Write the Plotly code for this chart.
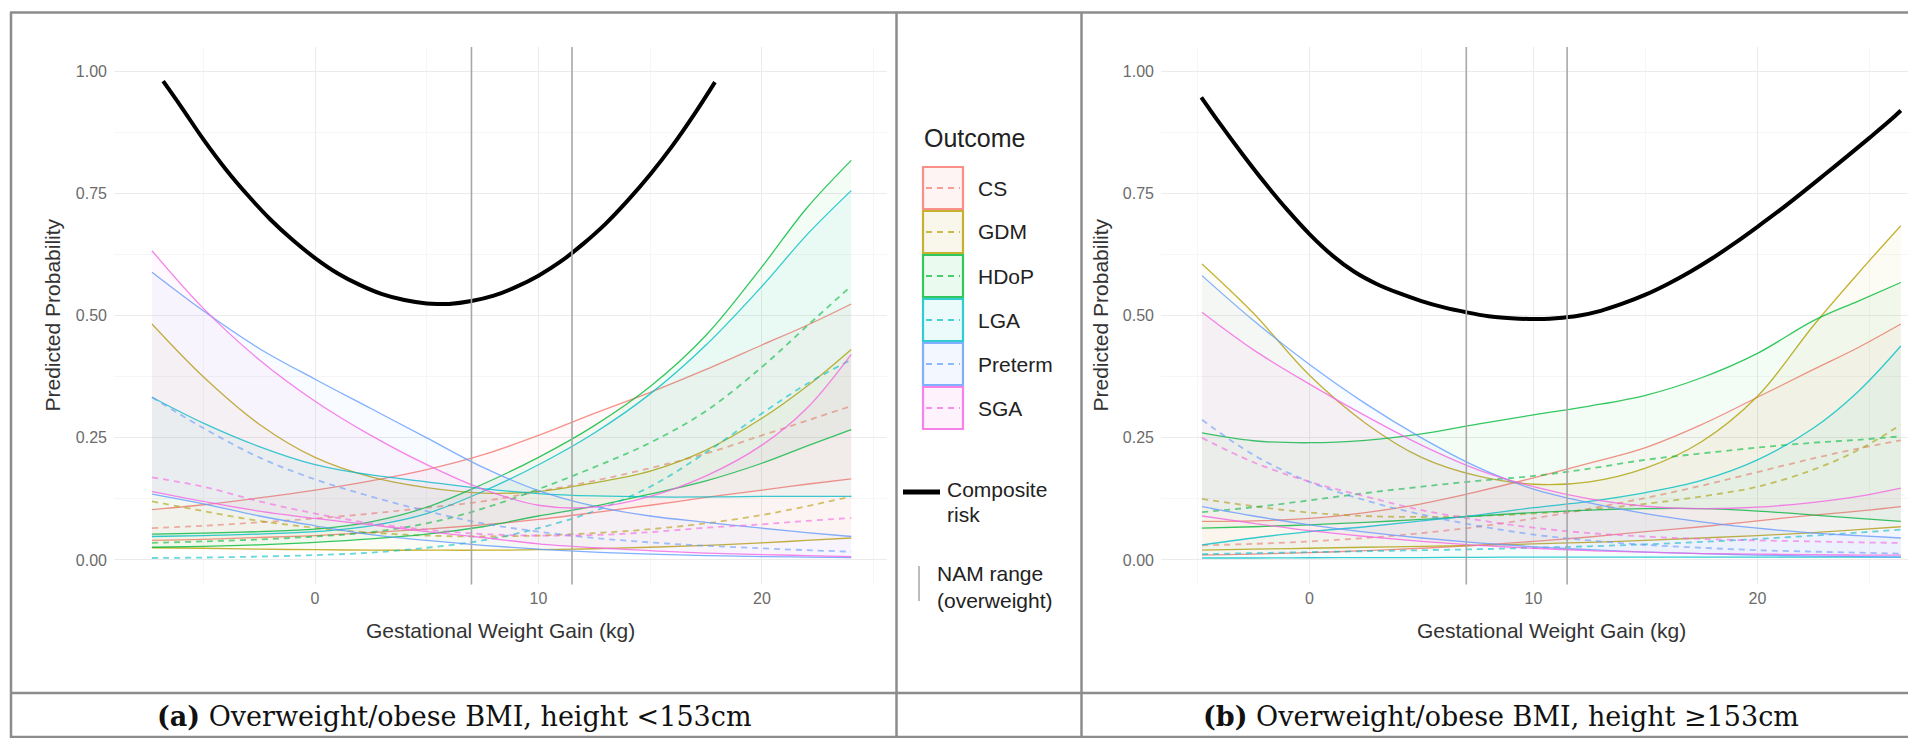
import plotly.graph_objects as go

W, H = 1908, 738

# ---------------- data ----------------
outcomes = ["CS", "GDM", "HDoP", "LGA", "Preterm", "SGA"]
outcome_colors = ["#F8766D", "#B79F00", "#00BA38", "#00BFC4", "#619CFF", "#F564E3"]

# Panel (a): overweight/obese BMI, height <153cm
gwg_a = [-7.3, -5, -2.5, 0, 2.5, 5, 7.5, 10, 12.5, 15, 17.5, 20, 22, 24]
a_cs_hi = [0.103, 0.113, 0.127, 0.143, 0.162, 0.185, 0.215, 0.255, 0.300, 0.343, 0.390, 0.440, 0.480, 0.524]
a_cs_lo = [0.040, 0.042, 0.046, 0.050, 0.056, 0.063, 0.072, 0.083, 0.097, 0.112, 0.128, 0.143, 0.155, 0.166]
a_cs_est = [0.065, 0.070, 0.077, 0.085, 0.095, 0.107, 0.120, 0.140, 0.162, 0.188, 0.218, 0.255, 0.285, 0.315]
a_gdm_hi = [0.483, 0.375, 0.278, 0.210, 0.170, 0.148, 0.137, 0.140, 0.158, 0.182, 0.225, 0.290, 0.355, 0.431]
a_gdm_lo = [0.025, 0.024, 0.022, 0.021, 0.020, 0.020, 0.020, 0.021, 0.023, 0.026, 0.030, 0.035, 0.040, 0.045]
a_gdm_est = [0.120, 0.100, 0.080, 0.066, 0.056, 0.050, 0.048, 0.050, 0.055, 0.063, 0.075, 0.092, 0.110, 0.130]
a_hdop_hi = [0.053, 0.055, 0.058, 0.063, 0.078, 0.108, 0.155, 0.210, 0.275, 0.355, 0.460, 0.600, 0.720, 0.818]
a_hdop_lo = [0.026, 0.028, 0.031, 0.036, 0.043, 0.053, 0.068, 0.090, 0.110, 0.135, 0.162, 0.198, 0.233, 0.267]
a_hdop_est = [0.035, 0.038, 0.042, 0.048, 0.057, 0.075, 0.105, 0.145, 0.190, 0.240, 0.305, 0.395, 0.478, 0.561]
a_lga_hi = [0.048, 0.050, 0.053, 0.058, 0.070, 0.095, 0.140, 0.195, 0.260, 0.340, 0.440, 0.560, 0.665, 0.756]
a_lga_lo = [0.333, 0.280, 0.232, 0.195, 0.174, 0.160, 0.146, 0.136, 0.131, 0.129, 0.129, 0.130, 0.130, 0.130]
a_lga_est = [0.004, 0.005, 0.007, 0.010, 0.015, 0.025, 0.040, 0.065, 0.100, 0.150, 0.220, 0.300, 0.360, 0.410]
a_pre_hi = [0.589, 0.510, 0.433, 0.370, 0.310, 0.250, 0.190, 0.142, 0.110, 0.090, 0.077, 0.065, 0.056, 0.048]
a_pre_lo = [0.135, 0.115, 0.090, 0.070, 0.052, 0.040, 0.030, 0.022, 0.016, 0.012, 0.009, 0.007, 0.006, 0.005]
a_pre_est = [0.333, 0.270, 0.210, 0.165, 0.130, 0.100, 0.075, 0.058, 0.045, 0.036, 0.029, 0.024, 0.020, 0.017]
a_sga_hi = [0.633, 0.515, 0.410, 0.325, 0.255, 0.195, 0.145, 0.112, 0.108, 0.130, 0.172, 0.235, 0.310, 0.421]
a_sga_lo = [0.140, 0.120, 0.100, 0.085, 0.072, 0.058, 0.046, 0.033, 0.025, 0.019, 0.014, 0.011, 0.009, 0.007]
a_sga_est = [0.169, 0.150, 0.120, 0.095, 0.075, 0.062, 0.053, 0.050, 0.051, 0.057, 0.066, 0.073, 0.080, 0.086]
gwg_comp_a = [-6.8, -6, -5, -4, -3, -2, -1, 0, 1, 2, 3, 4, 5, 5.6, 6, 7, 8, 9, 10, 11, 12, 13, 14, 15, 16, 17, 17.9]
a_composite = [0.980, 0.928, 0.861, 0.800, 0.746, 0.697, 0.655, 0.618, 0.587, 0.563, 0.544, 0.532, 0.525, 0.524,
               0.524, 0.530, 0.541, 0.559, 0.582, 0.611, 0.647, 0.688, 0.736, 0.789, 0.848, 0.914, 0.978]

# Panel (b): overweight/obese BMI, height >=153cm
gwg_b = [-4.8, -2.5, 0, 2.5, 5, 7.5, 10, 12.5, 15, 17.5, 20, 22.5, 24.5, 26.4]
b_cs_hi = [0.079, 0.080, 0.085, 0.097, 0.115, 0.140, 0.168, 0.198, 0.230, 0.277, 0.333, 0.390, 0.435, 0.483]
b_cs_lo = [0.010, 0.012, 0.015, 0.019, 0.024, 0.030, 0.038, 0.047, 0.058, 0.068, 0.080, 0.092, 0.100, 0.109]
b_cs_est = [0.030, 0.033, 0.038, 0.045, 0.055, 0.068, 0.085, 0.105, 0.127, 0.152, 0.180, 0.208, 0.228, 0.245]
b_gdm_hi = [0.606, 0.505, 0.378, 0.280, 0.210, 0.172, 0.155, 0.160, 0.188, 0.242, 0.335, 0.480, 0.587, 0.684]
b_gdm_lo = [0.020, 0.022, 0.024, 0.026, 0.028, 0.030, 0.033, 0.036, 0.040, 0.045, 0.050, 0.056, 0.062, 0.068]
b_gdm_est = [0.125, 0.110, 0.097, 0.090, 0.088, 0.090, 0.095, 0.103, 0.115, 0.130, 0.150, 0.185, 0.225, 0.277]
b_hdop_hi = [0.260, 0.244, 0.240, 0.245, 0.258, 0.278, 0.297, 0.315, 0.337, 0.373, 0.423, 0.490, 0.530, 0.568]
b_hdop_lo = [0.065, 0.068, 0.072, 0.077, 0.083, 0.090, 0.097, 0.102, 0.105, 0.105, 0.100, 0.092, 0.085, 0.079]
b_hdop_est = [0.098, 0.108, 0.122, 0.137, 0.150, 0.162, 0.172, 0.187, 0.205, 0.218, 0.230, 0.240, 0.246, 0.253]
b_lga_hi = [0.031, 0.045, 0.058, 0.068, 0.080, 0.092, 0.107, 0.120, 0.138, 0.163, 0.205, 0.270, 0.345, 0.438]
b_lga_lo = [0.004, 0.004, 0.0045, 0.005, 0.005, 0.0055, 0.006, 0.006, 0.006, 0.006, 0.006, 0.006, 0.006, 0.006]
b_lga_est = [0.012, 0.014, 0.016, 0.018, 0.020, 0.022, 0.025, 0.028, 0.032, 0.037, 0.043, 0.050, 0.056, 0.062]
b_pre_hi = [0.582, 0.490, 0.400, 0.320, 0.250, 0.190, 0.145, 0.117, 0.095, 0.078, 0.065, 0.055, 0.050, 0.045]
b_pre_lo = [0.109, 0.090, 0.072, 0.057, 0.045, 0.035, 0.027, 0.021, 0.016, 0.013, 0.010, 0.008, 0.007, 0.006]
b_pre_est = [0.287, 0.215, 0.160, 0.122, 0.093, 0.070, 0.052, 0.040, 0.031, 0.025, 0.020, 0.017, 0.015, 0.013]
b_sga_hi = [0.507, 0.430, 0.360, 0.295, 0.235, 0.185, 0.150, 0.125, 0.110, 0.105, 0.108, 0.118, 0.130, 0.147]
b_sga_lo = [0.090, 0.075, 0.060, 0.048, 0.038, 0.030, 0.024, 0.019, 0.016, 0.013, 0.012, 0.011, 0.010, 0.010]
b_sga_est = [0.250, 0.200, 0.160, 0.130, 0.102, 0.082, 0.066, 0.055, 0.048, 0.043, 0.040, 0.038, 0.036, 0.035]
gwg_comp_b = [-4.83, -4, -3, -2, -1, 0, 1, 2, 3, 4, 5, 6, 7, 8, 9, 10, 11, 12, 13, 14, 15, 16, 17, 18,
              19, 20, 21, 22, 23, 24, 25, 26, 26.4]
b_composite = [0.947, 0.893, 0.831, 0.772, 0.717, 0.667, 0.624, 0.590, 0.565, 0.546, 0.530, 0.517, 0.507,
               0.499, 0.495, 0.493, 0.495, 0.500, 0.510, 0.525, 0.543, 0.565, 0.590, 0.618, 0.649, 0.682,
               0.716, 0.752, 0.789, 0.826, 0.864, 0.903, 0.920]

nam_range = [7, 11.5]
y_ticks = [0, 0.25, 0.5, 0.75, 1.0]
x_ticks = [0, 10, 20]
captions = ["<b>(a)</b> Overweight/obese BMI, height &lt;153cm",
            "<b>(b)</b> Overweight/obese BMI, height ≥153cm"]

panel_a = {"CS": (a_cs_lo, a_cs_hi, a_cs_est), "GDM": (a_gdm_lo, a_gdm_hi, a_gdm_est),
           "HDoP": (a_hdop_lo, a_hdop_hi, a_hdop_est), "LGA": (a_lga_lo, a_lga_hi, a_lga_est),
           "Preterm": (a_pre_lo, a_pre_hi, a_pre_est), "SGA": (a_sga_lo, a_sga_hi, a_sga_est)}
panel_b = {"CS": (b_cs_lo, b_cs_hi, b_cs_est), "GDM": (b_gdm_lo, b_gdm_hi, b_gdm_est),
           "HDoP": (b_hdop_lo, b_hdop_hi, b_hdop_est), "LGA": (b_lga_lo, b_lga_hi, b_lga_est),
           "Preterm": (b_pre_lo, b_pre_hi, b_pre_est), "SGA": (b_sga_lo, b_sga_hi, b_sga_est)}


def rgba(hexc, a):
    h = hexc.lstrip("#")
    r, g, b = int(h[0:2], 16), int(h[2:4], 16), int(h[4:6], 16)
    return f"rgba({r},{g},{b},{a})"


def fx(px):
    return px / W


def fy(py):
    return 1 - py / H


fig = go.Figure()

panels = [(gwg_a, panel_a, gwg_comp_a, a_composite, "x", "y"),
          (gwg_b, panel_b, gwg_comp_b, b_composite, "x2", "y2")]

for xs, pdata, xc, comp, xa, ya in panels:
    for name, col in zip(outcomes, outcome_colors):
        lo, hi, est = pdata[name]
        fig.add_trace(go.Scatter(x=xs, y=lo, mode="lines", xaxis=xa, yaxis=ya,
                                 line=dict(color=rgba(col, 0.8), width=1.3, shape="spline", smoothing=1.0),
                                 showlegend=False, hoverinfo="skip"))
        fig.add_trace(go.Scatter(x=xs, y=hi, mode="lines", xaxis=xa, yaxis=ya, fill="tonexty",
                                 fillcolor=rgba(col, 0.045),
                                 line=dict(color=rgba(col, 0.8), width=1.3, shape="spline", smoothing=1.0),
                                 showlegend=False, hoverinfo="skip"))
        fig.add_trace(go.Scatter(x=xs, y=est, mode="lines", xaxis=xa, yaxis=ya,
                                 line=dict(color=rgba(col, 0.6), width=1.8, dash="6px,5px",
                                           shape="spline", smoothing=1.0),
                                 showlegend=False, hoverinfo="skip"))
    fig.add_trace(go.Scatter(x=xc, y=comp, mode="lines", xaxis=xa, yaxis=ya,
                             line=dict(color="black", width=4, shape="spline", smoothing=1.0),
                             showlegend=False, hoverinfo="skip"))

# NAM range vertical lines
for xa in ["x", "x2"]:
    for v in nam_range:
        fig.add_shape(type="line", xref=xa, yref=("y domain" if xa == "x" else "y2 domain"),
                      x0=v, x1=v, y0=0, y1=1, line=dict(color="#a8a8a8", width=1.6), layer="above")

ydom = [fy(584.4), fy(47)]
axis_font = dict(family="Liberation Sans, Arial, sans-serif", size=16, color="#6b6b6b")
common_x = dict(tickvals=x_ticks, showgrid=True, gridcolor="#ebebeb", gridwidth=1,
                minor=dict(dtick=5, tick0=0, showgrid=True, gridcolor="#f6f6f6", gridwidth=1),
                zeroline=False, showline=False, ticks="", tickfont=axis_font, ticklabelstandoff=3)
common_y = dict(range=[-0.05, 1.05], tickvals=y_ticks, tickformat=".2f", showgrid=True,
                gridcolor="#ebebeb", gridwidth=1,
                minor=dict(dtick=0.125, tick0=0, showgrid=True, gridcolor="#f6f6f6", gridwidth=1),
                zeroline=False, showline=False, ticks="", tickfont=axis_font, ticklabelstandoff=6)

fig.update_layout(
    width=W, height=H, margin=dict(l=0, r=0, t=0, b=0), autosize=False,
    paper_bgcolor="white", plot_bgcolor="white", hovermode=False,
    xaxis=dict(domain=[fx(114), fx(887)], range=[-9.0, 25.6], anchor="y", **common_x),
    yaxis=dict(domain=ydom, anchor="x", **common_y),
    xaxis2=dict(domain=[fx(1161), 1.0], range=[-6.63, 26.72], anchor="y2", **common_x),
    yaxis2=dict(domain=ydom, anchor="x2", **common_y),
)

title_font = dict(family="Liberation Sans, Arial, sans-serif", size=21, color="#333333")
ann = []
for xc_px, yc_px in [(500.5, 630), (1551, 630)]:
    ann.append(dict(x=fx(xc_px), y=fy(yc_px), xref="paper", yref="paper", text="Gestational Weight Gain (kg)",
                    showarrow=False, font=title_font, xanchor="center", yanchor="middle"))
for xc_px in [52, 1100]:
    ann.append(dict(x=fx(xc_px), y=fy(315.5), xref="paper", yref="paper", text="Predicted Probability",
                    textangle=-90, showarrow=False, font=title_font, xanchor="center", yanchor="middle"))

# captions
cap_font = dict(family="DejaVu Serif, Liberation Serif, serif", size=27, color="#111111")
for cx, txt in zip([454, 1501], captions):
    ann.append(dict(x=fx(cx), y=fy(716), xref="paper", yref="paper", text=txt, showarrow=False,
                    font=cap_font, xanchor="center", yanchor="middle"))

# legend (drawn)
leg_font = dict(family="Liberation Sans, Arial, sans-serif", size=21, color="#222222")
ann.append(dict(x=fx(922), y=fy(138), xref="paper", yref="paper", text="Outcome", showarrow=False,
                font=dict(family="Liberation Sans, Arial, sans-serif", size=25, color="#222222"),
                xanchor="left", yanchor="middle"))
key_top = 166
key_h = 44
for i, (name, col) in enumerate(zip(outcomes, outcome_colors)):
    t = key_top + i * key_h
    b = t + key_h
    fig.add_shape(type="rect", xref="paper", yref="paper", x0=fx(923), x1=fx(963), y0=fy(b - 1), y1=fy(t + 1),
                  line=dict(color=rgba(col, 0.8), width=2.2), fillcolor=rgba(col, 0.08))
    fig.add_shape(type="line", xref="paper", yref="paper", x0=fx(926), x1=fx(960), y0=fy((t + b) / 2),
                  y1=fy((t + b) / 2), line=dict(color=rgba(col, 0.7), width=1.8, dash="6px,5px"))
    ann.append(dict(x=fx(976), y=fy((t + b) / 2), xref="paper", yref="paper", text=name, showarrow=False,
                    font=leg_font, xanchor="left", yanchor="middle"))

fig.add_shape(type="line", xref="paper", yref="paper", x0=fx(903), x1=fx(940), y0=fy(492), y1=fy(492),
              line=dict(color="black", width=5))
ann.append(dict(x=fx(945), y=fy(490), xref="paper", yref="paper", text="Composite", showarrow=False,
                font=leg_font, xanchor="left", yanchor="middle"))
ann.append(dict(x=fx(945), y=fy(514), xref="paper", yref="paper", text="risk", showarrow=False,
                font=leg_font, xanchor="left", yanchor="middle"))
fig.add_shape(type="line", xref="paper", yref="paper", x0=fx(919), x1=fx(919), y0=fy(601), y1=fy(566),
              line=dict(color="#bdbdbd", width=2))
ann.append(dict(x=fx(935), y=fy(573), xref="paper", yref="paper", text="NAM range", showarrow=False,
                font=leg_font, xanchor="left", yanchor="middle"))
ann.append(dict(x=fx(935), y=fy(600), xref="paper", yref="paper", text="(overweight)", showarrow=False,
                font=leg_font, xanchor="left", yanchor="middle"))

# table borders
border = dict(color="#8c8c8c", width=2.5)
for (x0, y0, x1, y1) in [(10, 12.5, W, 12.5), (11, 12, 11, H), (896.5, 12, 896.5, H), (1081.5, 12, 1081.5, H),
                         (10, 693, W, 693), (10, 737, W, 737)]:
    fig.add_shape(type="line", xref="paper", yref="paper", x0=fx(x0), x1=fx(x1), y0=fy(y0), y1=fy(y1),
                  line=border)

fig.update_layout(annotations=ann)
fig.write_html("out.html", config={"displayModeBar": False, "staticPlot": True},
               post_script="document.body.style.margin='0';document.body.style.padding='0';"
                           "document.body.style.overflow='hidden';")
